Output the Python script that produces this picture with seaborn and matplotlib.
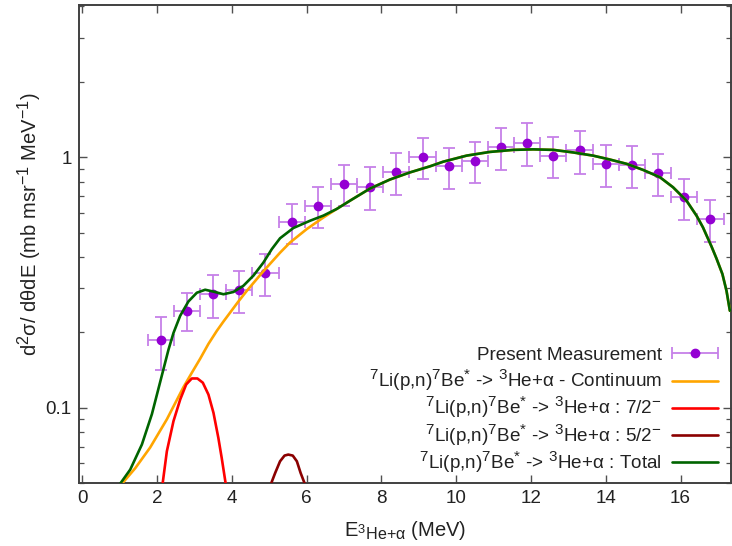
import types
import matplotlib
matplotlib.use("Agg")
import matplotlib.pyplot as plt
import matplotlib.ticker as mticker
import matplotlib._mathtext as _mt
from matplotlib.transforms import Bbox
from matplotlib.container import ErrorbarContainer
from matplotlib.legend_handler import HandlerErrorbar
import seaborn as sns
import pandas as pd

# ---------------- data ----------------
meas_E = [2.1, 2.8, 3.5, 4.2, 4.9, 5.6, 6.3, 7.0, 7.7, 8.4, 9.1,
          9.8, 10.5, 11.2, 11.9, 12.6, 13.3, 14.0, 14.7, 15.4, 16.1, 16.8]
meas_val = [0.186, 0.244, 0.284, 0.296, 0.346, 0.55, 0.641, 0.783, 0.763, 0.871, 1.006,
            0.92, 0.97, 1.10, 1.145, 1.016, 1.064, 0.941, 0.932, 0.863, 0.692, 0.567]
meas_dE = [0.35] * 22
meas_err = [0.044, 0.042, 0.055, 0.056, 0.066, 0.10, 0.12, 0.145, 0.148, 0.166, 0.19,
            0.17, 0.18, 0.21, 0.22, 0.19, 0.21, 0.18, 0.18, 0.165, 0.13, 0.11]

cont_E = [0.935, 1.042, 1.416, 1.817, 2.263, 2.707, 2.93, 3.153, 3.375, 3.6, 3.776, 3.955,
          4.178, 4.401, 4.845, 5.29, 5.558, 6.005, 6.45, 6.807,
          7.162, 7.696, 8.231, 8.765, 9.3, 9.655, 10.28, 10.9, 11.53, 12.06, 12.6, 13.13,
          13.66, 14.1, 14.56, 15.0, 15.45, 15.8, 16.16, 16.43, 16.6, 16.83, 16.96, 17.12,
          17.23, 17.32]
cont_val = [0.0464, 0.0494, 0.0574, 0.0695, 0.090, 0.121, 0.138, 0.157, 0.180, 0.203, 0.221, 0.240,
            0.266, 0.293, 0.351, 0.416, 0.457, 0.517, 0.575, 0.622,
            0.671, 0.75, 0.815, 0.87, 0.92, 0.96, 1.015, 1.05, 1.07, 1.075, 1.07, 1.045,
            1.015, 0.98, 0.941, 0.89, 0.832, 0.759, 0.671, 0.584, 0.525, 0.44, 0.395, 0.342,
            0.293, 0.244]

s72_E = [2.10, 2.146, 2.263, 2.44, 2.62, 2.78, 2.93, 3.08, 3.225, 3.375, 3.51, 3.64, 3.73, 3.84, 3.90]
s72_val = [0.043, 0.0494, 0.0671, 0.0885, 0.108, 0.124, 0.131, 0.131, 0.126, 0.113, 0.0955,
           0.0759, 0.0631, 0.0494, 0.043]

s52_E = [4.98, 5.04, 5.16, 5.29, 5.41, 5.51, 5.63, 5.74, 5.84, 5.96, 6.02]
s52_val = [0.046, 0.0494, 0.055, 0.0612, 0.0645, 0.0651, 0.0645, 0.0612, 0.055, 0.0494, 0.046]

tot_E = [0.922, 0.997, 1.283, 1.595, 1.863, 2.084, 2.306, 2.44, 2.619, 2.841, 3.065, 3.287,
         3.509, 3.776, 4.043, 4.31, 4.578, 4.845, 5.07, 5.29, 5.647, 6.093, 6.45, 6.807,
         7.162, 7.696, 8.231, 8.765, 9.3, 9.655, 10.28, 10.9, 11.53, 12.06, 12.6, 13.13,
         13.66, 14.1, 14.56, 15.0, 15.45, 15.8, 16.16, 16.43, 16.6, 16.83, 16.96, 17.12,
         17.23, 17.32]
tot_val = [0.0464, 0.0494, 0.0567, 0.0714, 0.0944, 0.1268, 0.1706, 0.199, 0.233, 0.266, 0.288, 0.296,
           0.291, 0.284, 0.290, 0.307, 0.337, 0.380, 0.430, 0.475, 0.522, 0.558, 0.585, 0.622,
           0.671, 0.75, 0.815, 0.87, 0.92, 0.96, 1.015, 1.05, 1.07, 1.075, 1.07, 1.045,
           1.015, 0.98, 0.941, 0.89, 0.832, 0.759, 0.671, 0.584, 0.525, 0.44, 0.395, 0.342,
           0.293, 0.244]

x_ticks = [0, 2, 4, 6, 8, 10, 12, 14, 16]
y_ticks = [0.1, 1]
y_tick_labels = ["0.1", "1"]

labels = [
    "Present Measurement",
    r"$^{7}$Li(p,n)$^{7}$Be$^{*}$ -> $^{3}$He+α - Continuum",
    r"$^{7}$Li(p,n)$^{7}$Be$^{*}$ -> $^{3}$He+α : 7/2$^{-}$",
    r"$^{7}$Li(p,n)$^{7}$Be$^{*}$ -> $^{3}$He+α : 5/2$^{-}$",
    r"$^{7}$Li(p,n)$^{7}$Be$^{*}$ -> $^{3}$He+α : Total",
]
colors = ["#9400d3", "#ffa500", "#ff0000", "#8b0000", "#006400"]

# ---------------- style ----------------
sns.set_theme(style="ticks")
plt.rcParams["font.family"] = ["Liberation Sans", "DejaVu Sans"]
plt.rcParams["mathtext.fontset"] = "custom"
plt.rcParams["mathtext.rm"] = "Liberation Sans"
plt.rcParams["mathtext.it"] = "Liberation Sans:italic"
plt.rcParams["mathtext.bf"] = "Liberation Sans:bold"
_mt.SHRINK_FACTOR = 0.8  # gnuplot-like sub/superscript size
FS = 13.6
LFS = 14.5

fig = plt.figure(figsize=(7.32, 5.46), dpi=100)
L, R, T, B = 78.5, 731.0, 5.0, 483.3
ax = fig.add_axes([L / 732, 1 - B / 546, (R - L) / 732, (B - T) / 546])

eb = ax.errorbar(meas_E, meas_val, xerr=meas_dE, yerr=meas_err, fmt="o",
                 color=colors[0], ecolor="#c680e8", elinewidth=1.3, capsize=4.5,
                 capthick=1.3, markersize=6, zorder=2, label=labels[0])

curves = [(cont_E, cont_val), (s72_E, s72_val), (s52_E, s52_val), (tot_E, tot_val)]
for i, (xs, ys) in enumerate(curves):
    df = pd.DataFrame({"E": xs, "v": ys})
    sns.lineplot(data=df, x="E", y="v", ax=ax, color=colors[i + 1], lw=1.9,
                 estimator=None, sort=False, label=labels[i + 1], zorder=3 + i)

ax.set_yscale("log")
ax.set_xlim(-0.1, 17.35)
ax.set_ylim(0.05, 4.05)
ax.set_xticks(x_ticks)
ax.set_xticklabels([str(t) for t in x_ticks])
ax.yaxis.set_major_locator(mticker.FixedLocator(y_ticks))
ax.yaxis.set_major_formatter(mticker.FixedFormatter(y_tick_labels))
ax.yaxis.set_minor_locator(mticker.LogLocator(base=10, subs=[2, 3, 4, 5, 6, 7, 8, 9]))
ax.yaxis.set_minor_formatter(mticker.NullFormatter())
ax.xaxis.set_minor_locator(mticker.NullLocator())

ax.tick_params(axis="both", which="major", direction="in", length=5.5, width=1.0,
               color="#505050", labelsize=FS, top=True, right=True, pad=5,
               labelcolor="#222222")
ax.tick_params(axis="y", which="minor", direction="in", length=3.5, width=0.9,
               color="#505050", right=True, left=True)
for sp in ax.spines.values():
    sp.set_color("#404040")
    sp.set_linewidth(1.4)

ax.set_xlabel(r"E$_{{}^{3}\mathrm{He{+}α}}$ (MeV)", fontsize=LFS, color="#222222")
ax.set_ylabel(r"d$^{2}$σ/ dθdE (mb msr$^{-1}$ MeV$^{-1}$)", fontsize=LFS, color="#222222")
ax.xaxis.set_label_coords(0.5, -0.075)
ax.yaxis.set_label_coords(-0.053, 0.542)

handles, labs = ax.get_legend_handles_labels()
order = [labs.index(l) for l in labels]
leg = ax.legend([handles[i] for i in order], [labs[i] for i in order],
                loc="lower right", bbox_to_anchor=((718.3 - L) / (R - L), 0.02),
                frameon=False, markerfirst=False, fontsize=FS, handlelength=2.47,
                handletextpad=0.53, labelspacing=0.275, borderpad=0, borderaxespad=0,
                handler_map={ErrorbarContainer: HandlerErrorbar(xerr_size=1.2, yerr_size=0.0)})
for t in leg.get_texts():
    t.set_color("#222222")

# give every legend row the same height so rows are evenly spaced (gnuplot-like)
try:
    for col in leg._legend_handle_box.get_children():
        for item in col.get_children():
            for child in item.get_children():
                if hasattr(child, "_text"):
                    def _fixed_bbox(self, renderer, _orig=child.get_bbox):
                        bb = _orig(renderer)
                        return Bbox.from_bounds(bb.x0, -5.0, bb.width, 22.0)
                    child.get_bbox = types.MethodType(_fixed_bbox, child)
except Exception:
    pass

fig.savefig("out.png", dpi=100)
